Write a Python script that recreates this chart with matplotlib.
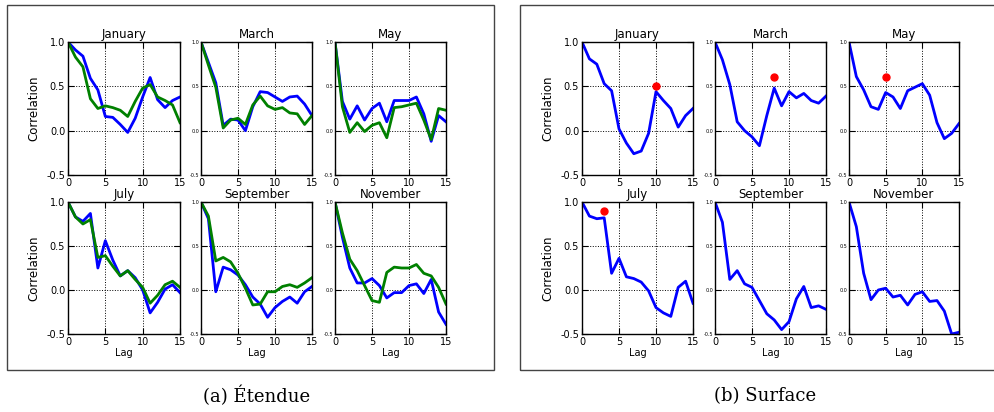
import matplotlib.pyplot as plt
import numpy as np
from matplotlib.patches import Rectangle
from matplotlib.ticker import FormatStrFormatter

# figure size in pixels
W, H = 995, 412

months = ['January', 'March', 'May', 'July', 'September', 'November']
lags = np.arange(16)

# (a) Etendue : blue and green series per month
ext_jan_b = [1.0, 0.91, 0.84, 0.59, 0.46, 0.16, 0.15, 0.07, -0.02, 0.14, 0.38, 0.60, 0.35, 0.26, 0.34, 0.38]
ext_jan_g = [1.0, 0.83, 0.72, 0.36, 0.25, 0.28, 0.26, 0.23, 0.16, 0.33, 0.48, 0.52, 0.38, 0.34, 0.29, 0.09]
ext_mar_b = [1.0, 0.77, 0.54, 0.06, 0.13, 0.12, 0.00, 0.27, 0.44, 0.43, 0.38, 0.33, 0.38, 0.39, 0.30, 0.17]
ext_mar_g = [1.0, 0.74, 0.49, 0.03, 0.12, 0.14, 0.07, 0.29, 0.39, 0.28, 0.24, 0.26, 0.20, 0.19, 0.07, 0.17]
ext_may_b = [1.0, 0.33, 0.13, 0.28, 0.12, 0.25, 0.31, 0.10, 0.34, 0.34, 0.34, 0.38, 0.19, -0.12, 0.17, 0.10]
ext_may_g = [1.0, 0.27, -0.02, 0.09, -0.01, 0.06, 0.09, -0.08, 0.26, 0.27, 0.29, 0.31, 0.12, -0.10, 0.25, 0.23]
ext_jul_b = [1.0, 0.83, 0.78, 0.87, 0.25, 0.56, 0.34, 0.16, 0.22, 0.14, 0.00, -0.26, -0.14, 0.01, 0.06, -0.03]
ext_jul_g = [1.0, 0.83, 0.75, 0.80, 0.37, 0.39, 0.27, 0.16, 0.22, 0.12, 0.03, -0.15, -0.06, 0.06, 0.10, 0.03]
ext_sep_b = [1.0, 0.81, -0.02, 0.26, 0.23, 0.17, 0.06, -0.08, -0.16, -0.31, -0.20, -0.13, -0.08, -0.15, -0.02, 0.04]
ext_sep_g = [1.0, 0.84, 0.33, 0.37, 0.32, 0.19, 0.02, -0.17, -0.16, -0.02, -0.02, 0.04, 0.06, 0.03, 0.08, 0.14]
ext_nov_b = [1.0, 0.60, 0.25, 0.08, 0.08, 0.13, 0.05, -0.09, -0.03, -0.03, 0.05, 0.07, -0.04, 0.12, -0.25, -0.39]
ext_nov_g = [1.0, 0.65, 0.35, 0.22, 0.05, -0.12, -0.14, 0.20, 0.26, 0.25, 0.25, 0.29, 0.19, 0.16, 0.03, -0.16]

# (b) Surface : one series per month + red peak marker
surf_jan = [1.0, 0.81, 0.75, 0.53, 0.45, 0.02, -0.14, -0.26, -0.23, -0.03, 0.44, 0.34, 0.25, 0.04, 0.17, 0.25]
surf_mar = [1.0, 0.80, 0.52, 0.10, 0.00, -0.07, -0.17, 0.17, 0.48, 0.28, 0.44, 0.37, 0.42, 0.34, 0.31, 0.39]
surf_may = [1.0, 0.61, 0.46, 0.27, 0.24, 0.43, 0.38, 0.25, 0.45, 0.49, 0.53, 0.40, 0.09, -0.09, -0.03, 0.08]
surf_jul = [1.0, 0.84, 0.81, 0.82, 0.19, 0.36, 0.15, 0.13, 0.09, -0.01, -0.20, -0.26, -0.30, 0.03, 0.10, -0.15]
surf_sep = [1.0, 0.77, 0.12, 0.22, 0.07, 0.03, -0.12, -0.27, -0.34, -0.45, -0.36, -0.10, 0.04, -0.20, -0.18, -0.22]
surf_nov = [1.0, 0.72, 0.19, -0.11, 0.00, 0.02, -0.08, -0.06, -0.17, -0.05, -0.02, -0.13, -0.12, -0.24, -0.50, -0.48]
peak_lag = [10, 8, 5, 3, None, None]
peak_val = [0.5, 0.6, 0.6, 0.9, None, None]

ext_blue = [ext_jan_b, ext_mar_b, ext_may_b, ext_jul_b, ext_sep_b, ext_nov_b]
ext_green = [ext_jan_g, ext_mar_g, ext_may_g, ext_jul_g, ext_sep_g, ext_nov_g]
surf = [surf_jan, surf_mar, surf_may, surf_jul, surf_sep, surf_nov]

fig = plt.figure(figsize=(W / 100, H / 100), dpi=100)

def px_axes(x0, x1, y0, y1):
    return fig.add_axes([x0 / W, 1 - y1 / H, (x1 - x0) / W, (y1 - y0) / H])

cols_a = [(68, 180), (201, 312), (335, 446)]
cols_b = [(582, 693), (715, 826), (849, 959)]
rows = [(42, 175), (202, 334)]

def setup(ax, i):
    r, c = divmod(i, 3)
    ax.set_xlim(0, 15)
    ax.set_ylim(-0.5, 1.0)
    ax.set_xticks([0, 5, 10, 15])
    ax.set_yticks([-0.5, 0.0, 0.5, 1.0])
    ax.yaxis.set_major_formatter(FormatStrFormatter('%.1f'))
    ax.tick_params(direction='in', top=True, right=True, length=4, width=0.8,
                   labelsize=7, pad=2)
    if c != 0:
        ax.tick_params(axis='y', labelsize=3.5, pad=1.5)
    else:
        ax.set_ylabel('Correlation', fontsize=8.5)
    if r == 1:
        ax.set_xlabel('Lag', fontsize=7, labelpad=1)
    ax.grid(True, linestyle=':', color='k', linewidth=0.7)
    for s in ax.spines.values():
        s.set_linewidth(1.0)
    ax.set_title(months[i], fontsize=8.5, pad=3)

for i in range(6):
    r, c = divmod(i, 3)
    ax = px_axes(cols_a[c][0], cols_a[c][1], rows[r][0], rows[r][1])
    ax.plot(lags, ext_blue[i], color='#0000ff', lw=2)
    ax.plot(lags, ext_green[i], color='#008000', lw=2)
    setup(ax, i)

    ax = px_axes(cols_b[c][0], cols_b[c][1], rows[r][0], rows[r][1])
    ax.plot(lags, surf[i], color='#0000ff', lw=2)
    if peak_lag[i] is not None:
        ax.plot([peak_lag[i]], [peak_val[i]], 'o', color='#ff0000', ms=5, mec='#ff0000', clip_on=False)
    setup(ax, i)

# frames around the two sub-figures
fig.add_artist(Rectangle((7 / W, 1 - 370 / H), (494 - 7) / W, (370 - 5) / H,
                         transform=fig.transFigure, fill=False, ec='#444444', lw=1))
fig.add_artist(Rectangle((520 / W, 1 - 370 / H), (1010 - 520) / W, (370 - 5) / H,
                         transform=fig.transFigure, fill=False, ec='#444444', lw=1))

fig.text(257 / W, 1 - 396 / H, '(a) Étendue', ha='center', va='center',
         family='DejaVu Serif', fontsize=13)
fig.text(765 / W, 1 - 396 / H, '(b) Surface', ha='center', va='center',
         family='DejaVu Serif', fontsize=13)

fig.savefig('out.png', dpi=100)
